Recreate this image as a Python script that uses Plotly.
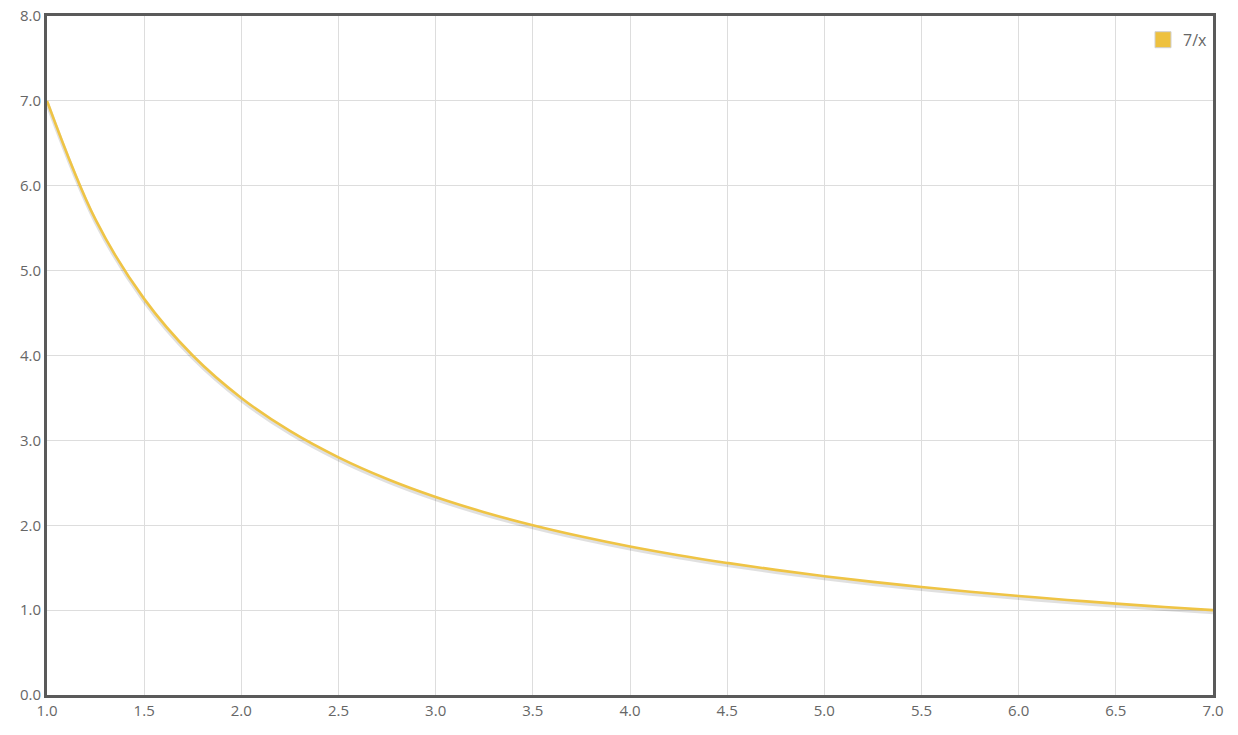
import plotly.graph_objects as go

x_vals = [1.0, 1.25, 1.5, 1.75, 2.0, 2.25, 2.5, 2.75, 3.0, 3.25, 3.5, 3.75, 4.0,
          4.25, 4.5, 4.75, 5.0, 5.25, 5.5, 5.75, 6.0, 6.25, 6.5, 6.75, 7.0]
y_vals = [7.0, 5.6, 4.667, 4.0, 3.5, 3.111, 2.8, 2.545, 2.333, 2.154, 2.0, 1.867, 1.75,
          1.647, 1.556, 1.474, 1.4, 1.333, 1.273, 1.217, 1.167, 1.12, 1.077, 1.037, 1.0]
series_name = "7/x"
x_ticks = [1.0, 1.5, 2.0, 2.5, 3.0, 3.5, 4.0, 4.5, 5.0, 5.5, 6.0, 6.5, 7.0]
y_ticks = [0, 1, 2, 3, 4, 5, 6, 7, 8]

line_color = "#EFC445"
font_family = "Open Sans, Noto Sans, sans-serif"

fig = go.Figure()
# soft shadow under the line
fig.add_trace(go.Scatter(
    x=x_vals, y=[v - 0.025 for v in y_vals], mode="lines",
    line=dict(color="rgba(0,0,0,0.12)", width=4, shape="spline"),
    hoverinfo="skip", showlegend=False))
fig.add_trace(go.Scatter(
    x=x_vals, y=y_vals, mode="lines", name=series_name,
    line=dict(color=line_color, width=2.6, shape="spline"),
    showlegend=False))
# legend swatch (square)
fig.add_trace(go.Scatter(
    x=[None], y=[None], mode="markers", name=series_name,
    marker=dict(symbol="square", size=18, color="#EEC13E",
                line=dict(color="#D0D0D0", width=1)),
    showlegend=True))

fig.update_layout(
    width=1238, height=735,
    margin=dict(l=47, r=25, t=16, b=40),
    paper_bgcolor="white", plot_bgcolor="white",
    font=dict(family=font_family, size=15, color="#666666"),
    legend=dict(x=1.0, y=0.99, xanchor="right", yanchor="top",
                bgcolor="rgba(0,0,0,0)", font=dict(size=16, color="#666666"),
                itemsizing="trace"),
)
fig.update_xaxes(
    range=[1, 7], tickvals=x_ticks, ticktext=[f"{v:.1f}" for v in x_ticks],
    showgrid=True, gridcolor="#DDDDDD", gridwidth=1, automargin=False,
    ticklabeloverflow="allow",
    showline=True, linecolor="#5A5A5A", linewidth=3, mirror=True,
    zeroline=False, ticks="", ticklen=0)
fig.update_yaxes(
    range=[0, 8], tickvals=y_ticks, ticktext=[f"{v:.1f}" for v in y_ticks],
    showgrid=True, gridcolor="#DDDDDD", gridwidth=1, automargin=False,
    ticklabeloverflow="allow",
    showline=True, linecolor="#5A5A5A", linewidth=3, mirror=True,
    zeroline=False, ticks="", ticklen=0)

fig.write_html("out.html", config={"displayModeBar": False},
               post_script="document.body.style.margin='0';document.body.style.overflow='hidden';")
